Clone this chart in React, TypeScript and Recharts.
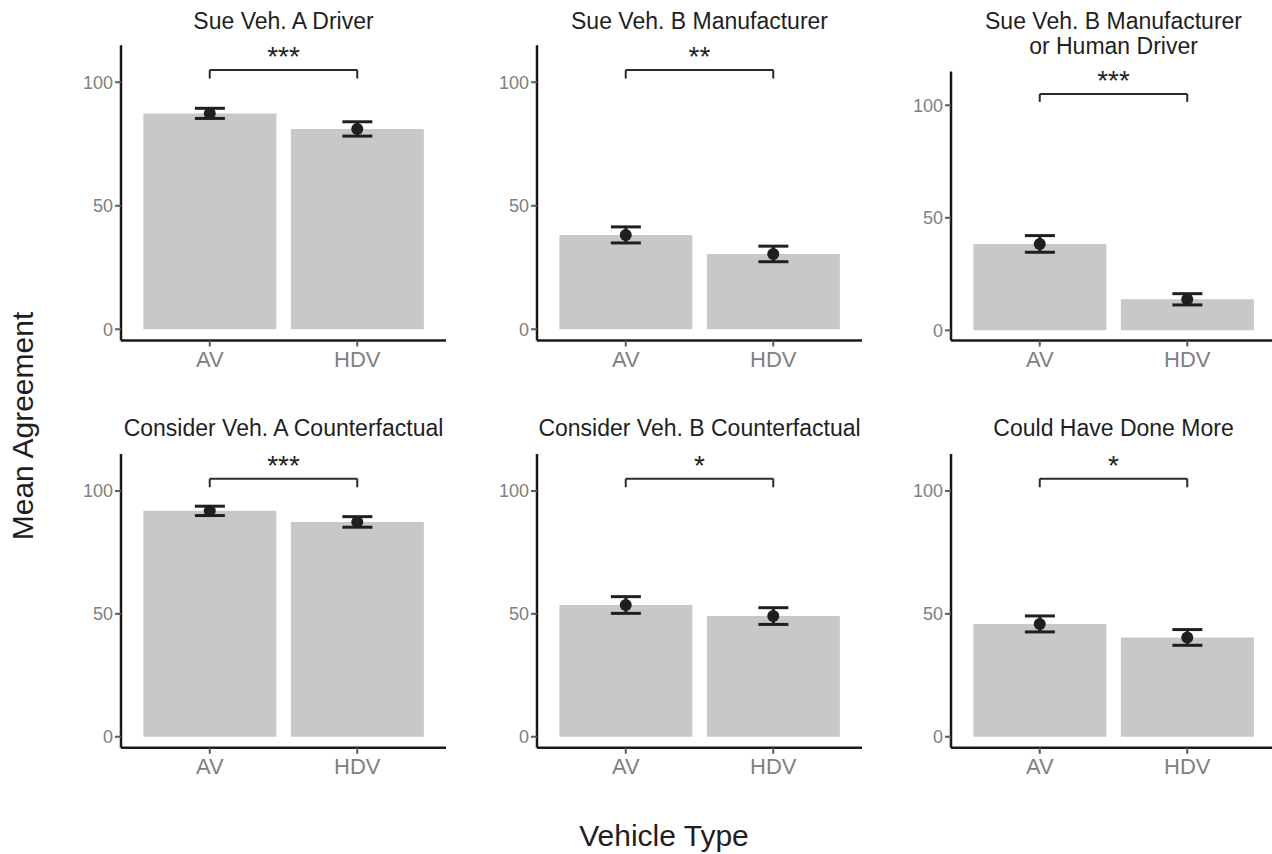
import {
  ComposedChart,
  Bar,
  Line,
  XAxis,
  YAxis,
  ErrorBar,
  ReferenceLine,
} from "recharts";

// ---- data ----
const vehicleTypes = ["AV", "HDV"];

const panelTitles = [
  "Sue Veh. A Driver",
  "Sue Veh. B Manufacturer",
  "Sue Veh. B Manufacturer\nor Human Driver",
  "Consider Veh. A Counterfactual",
  "Consider Veh. B Counterfactual",
  "Could Have Done More",
];

const avMeans = [87.4, 38.2, 38.4, 91.9, 53.6, 45.9];
const hdvMeans = [81.1, 30.5, 13.8, 87.4, 49.1, 40.4];
const avErrors = [2.05, 3.25, 3.7, 1.9, 3.4, 3.25];
const hdvErrors = [2.9, 3.15, 2.5, 2.15, 3.4, 3.2];

const sigLabels = ["***", "**", "***", "***", "*", "*"];

const yTicks = [0, 50, 100];
const yDomain = [-4.5, 115];
const bracketY = 105;
const bracketTipY = 101.5;

// ---- look ----
const FONT = '"Liberation Sans", Arial, Helvetica, sans-serif';
const BAR_FILL = "#c7c8ca";
const INK = "#1f1f1f";
const TICK_TEXT = "#808080";
const AXIS_LINE = "#1a1a1a";
const TICK_LINE = "#5a5a5a";
const BRACKET = "#2b2b2b";

const Y_AXIS_W = 61;
const PLOT_W = 325;
const X_AXIS_H = 50;
const CHART_W = Y_AXIS_W + PLOT_W;

// chart left edge, top / bottom of plot area, title top
const layout = [
  { left: 60, plotTop: 45.2, plotBottom: 340.4, titleTop: 9 },
  { left: 476, plotTop: 45.2, plotBottom: 340.4, titleTop: 9 },
  { left: 890, plotTop: 71.5, plotBottom: 340.5, titleTop: 9 },
  { left: 60, plotTop: 454.1, plotBottom: 747.8, titleTop: 416 },
  { left: 476, plotTop: 454.1, plotBottom: 747.8, titleTop: 416 },
  { left: 890, plotTop: 454.1, plotBottom: 747.8, titleTop: 416 },
];

function Panel({ index }: { index: number }) {
  const { left, plotTop, plotBottom, titleTop } = layout[index];
  const data = vehicleTypes.map((type, i) => ({
    type,
    mean: i === 0 ? avMeans[index] : hdvMeans[index],
    err: i === 0 ? avErrors[index] : hdvErrors[index],
  }));
  const chartTop = titleTop;
  const height = plotBottom - chartTop + X_AXIS_H;
  const plotCenter = left + Y_AXIS_W + PLOT_W / 2;

  return (
    <>
      <div style={{ position: "absolute", left: left, top: chartTop }}>
        <ComposedChart
          width={CHART_W}
          height={height}
          data={data}
          margin={{ top: plotTop - chartTop, right: 0, bottom: 0, left: 0 }}
          barCategoryGap="5%"
        >
          <XAxis
            dataKey="type"
            height={X_AXIS_H}
            padding={{ left: 15, right: 15 }}
            axisLine={{ stroke: AXIS_LINE, strokeWidth: 2.5 }}
            tickLine={{ stroke: TICK_LINE, strokeWidth: 2 }}
            tickSize={6}
            tickMargin={5}
            tick={{ fill: TICK_TEXT, fontSize: 22, fontFamily: FONT }}
          />
          <YAxis
            type="number"
            width={Y_AXIS_W}
            domain={yDomain}
            ticks={yTicks}
            allowDataOverflow
            axisLine={{ stroke: AXIS_LINE, strokeWidth: 2.5 }}
            tickLine={{ stroke: TICK_LINE, strokeWidth: 2 }}
            tickSize={6}
            tickMargin={2}
            tick={{ fill: TICK_TEXT, fontSize: 18, fontFamily: FONT }}
          />
          <Bar dataKey="mean" fill={BAR_FILL} isAnimationActive={false}>
            <ErrorBar dataKey="err" width={15} stroke={INK} strokeWidth={3} />
          </Bar>
          <Line
            dataKey="mean"
            stroke="none"
            dot={{ r: 6, fill: INK, stroke: "none" }}
            activeDot={false}
            isAnimationActive={false}
          />
          <ReferenceLine
            segment={[
              { x: vehicleTypes[0], y: bracketY },
              { x: vehicleTypes[1], y: bracketY },
            ]}
            stroke={BRACKET}
            strokeWidth={2}
            label={{
              value: sigLabels[index],
              position: "top",
              offset: 4,
              fill: INK,
              fontSize: 28,
              fontFamily: FONT,
            }}
          />
          <ReferenceLine
            segment={[
              { x: vehicleTypes[0], y: bracketTipY },
              { x: vehicleTypes[0], y: bracketY },
            ]}
            stroke={BRACKET}
            strokeWidth={2}
          />
          <ReferenceLine
            segment={[
              { x: vehicleTypes[1], y: bracketTipY },
              { x: vehicleTypes[1], y: bracketY },
            ]}
            stroke={BRACKET}
            strokeWidth={2}
          />
        </ComposedChart>
      </div>
      <div
        style={{
          position: "absolute",
          left: plotCenter - 250,
          top: titleTop,
          width: 500,
          textAlign: "center",
          fontSize: 23,
          lineHeight: "25px",
          color: INK,
          whiteSpace: "pre-line",
        }}
      >
        {panelTitles[index]}
      </div>
    </>
  );
}

export default function App() {
  return (
    <div
      style={{
        position: "relative",
        width: 1272,
        height: 854,
        overflow: "hidden",
        background: "#fff",
        fontFamily: FONT,
      }}
    >
      <style>{"body{margin:0}"}</style>
      {panelTitles.map((_, i) => (
        <Panel key={i} index={i} />
      ))}
      <div
        style={{
          position: "absolute",
          left: 23,
          top: 426,
          transform: "translate(-50%, -50%) rotate(-90deg)",
          whiteSpace: "nowrap",
          fontSize: 30,
          color: INK,
        }}
      >
        Mean Agreement
      </div>
      <div
        style={{
          position: "absolute",
          left: 664 - 200,
          width: 400,
          top: 821,
          textAlign: "center",
          fontSize: 30,
          lineHeight: "30px",
          color: INK,
        }}
      >
        Vehicle Type
      </div>
    </div>
  );
}
